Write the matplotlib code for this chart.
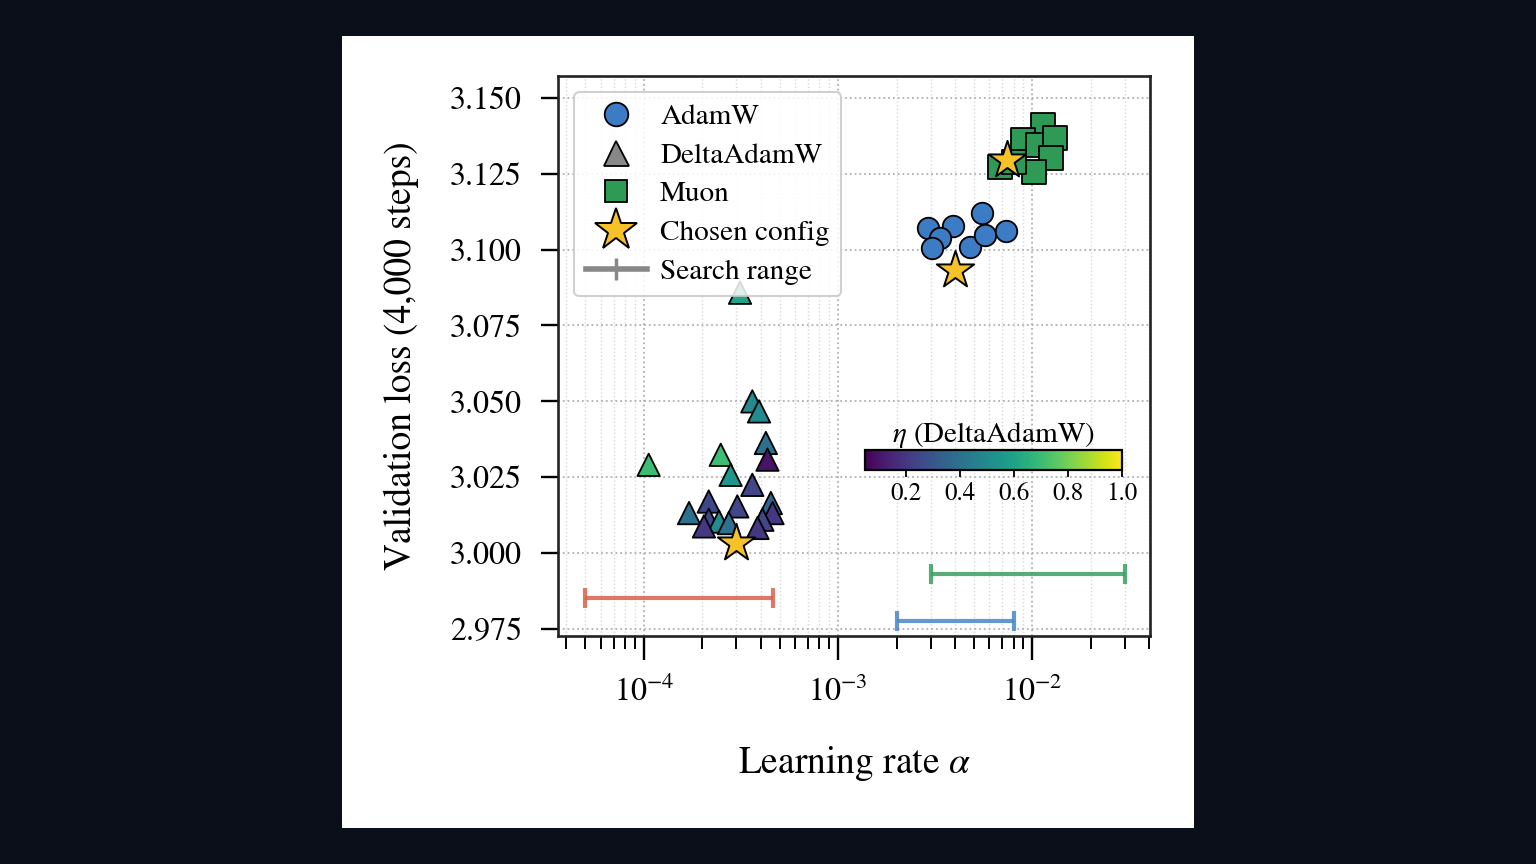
import numpy as np
import matplotlib
matplotlib.use("Agg")
import matplotlib.pyplot as plt
from matplotlib.lines import Line2D
from matplotlib.patches import Rectangle

plt.rcParams['font.family'] = 'serif'
plt.rcParams['font.serif'] = ['STIXGeneral', 'Liberation Serif', 'DejaVu Serif']
plt.rcParams['mathtext.fontset'] = 'stix'

# AdamW sweep
adamw_lr = [2.9e-3, 3.9e-3, 5.5e-3, 3.35e-3, 3.05e-3, 4.8e-3, 5.7e-3, 7.3e-3]
adamw_loss = [3.1072, 3.1078, 3.1121, 3.1039, 3.1006, 3.1009, 3.1049, 3.1062]
adamw_best = (4.0e-3, 3.0933)

# Muon sweep
muon_lr = [1.14e-2, 8.9e-3, 1.07e-2, 1.31e-2, 1.25e-2, 1.02e-2, 6.8e-3, 8.0e-3]
muon_loss = [3.1411, 3.1362, 3.1345, 3.1368, 3.1302, 3.1256, 3.1273, 3.1290]
muon_best = (7.4e-3, 3.1296)

# DeltaAdamW sweep (lr, loss, eta)
delta_lr = [1.06e-4, 3.62e-4, 3.92e-4, 4.25e-4, 4.33e-4, 2.49e-4, 2.80e-4, 3.62e-4,
            1.71e-4, 2.16e-4, 3.03e-4, 4.51e-4, 4.60e-4, 2.16e-4, 2.44e-4, 2.74e-4,
            4.08e-4, 2.04e-4, 3.85e-4, 3.13e-4]
delta_loss = [3.0291, 3.0500, 3.0467, 3.0363, 3.0308, 3.0324, 3.0258, 3.0225,
              3.0132, 3.0170, 3.0154, 3.0165, 3.0132, 3.0110, 3.0104, 3.0099,
              3.0110, 3.0088, 3.0083, 3.0858]
delta_eta = [0.7, 0.5, 0.5, 0.4, 0.1, 0.7, 0.55, 0.25,
             0.4, 0.25, 0.25, 0.35, 0.2, 0.25, 0.5, 0.4,
             0.25, 0.2, 0.2, 0.6]
delta_best = (3.0e-4, 3.0033)

# search ranges (lo, hi, y)
ranges = {
    'DeltaAdamW': (5e-5, 4.6e-4, 2.9853, '#d9604c'),
    'Muon': (3e-3, 3e-2, 2.9932, '#3a9e5f'),
    'AdamW': (2e-3, 8e-3, 2.9777, '#4a86c8'),
}

blue = '#3b7cc4'
green = '#2e9a55'
gold = '#f6c129'

fig = plt.figure(figsize=(15.36, 8.64), dpi=100, facecolor='#0b0f19')
fig.patches.append(Rectangle((342 / 1536, 1 - 828 / 864), 852 / 1536, 792 / 864,
                             transform=fig.transFigure, facecolor='white',
                             edgecolor='none', zorder=-10))

ax = fig.add_axes([558 / 1536, 1 - 636 / 864, 592 / 1536, 560 / 864])
ax.set_xscale('log')
ax.set_xlim(3.62e-5, 4.03e-2)
ax.set_ylim(2.9727, 3.1572)

ax.grid(True, which='major', linestyle=':', color='#b0b0b0', linewidth=1.3)
ax.grid(True, which='minor', axis='x', linestyle=':', color='#d8d8d8', linewidth=1.0)
ax.set_axisbelow(True)

for lo, hi, y, c in ranges.values():
    ax.errorbar([np.sqrt(lo * hi)], [y],
                xerr=[[np.sqrt(lo * hi) - lo], [hi - np.sqrt(lo * hi)]],
                fmt='none', ecolor=c, elinewidth=3, capsize=7, capthick=3, alpha=0.85, zorder=2)

ax.scatter(adamw_lr, adamw_loss, s=240, marker='o', c=blue, edgecolors='black',
           linewidths=1.3, zorder=3)
ax.scatter(muon_lr, muon_loss, s=310, marker='s', c=green, edgecolors='black',
           linewidths=1.3, zorder=3)
sc = ax.scatter(delta_lr, delta_loss, s=260, marker='^', c=delta_eta, cmap='viridis',
                vmin=0.05, vmax=1.0, edgecolors='black', linewidths=1.3, zorder=3)
for lr, loss in [adamw_best, muon_best, delta_best]:
    ax.scatter([lr], [loss], s=800, marker='*', c=gold, edgecolors='black',
               linewidths=1.4, zorder=4)

ax.set_yticks([2.975, 3.000, 3.025, 3.050, 3.075, 3.100, 3.125, 3.150])
ax.yaxis.set_major_formatter(matplotlib.ticker.FormatStrFormatter('%.3f'))
ax.tick_params(axis='both', which='major', labelsize=23, width=1.7, direction='out')
ax.tick_params(axis='x', which='major', length=17, pad=12)
ax.tick_params(axis='x', which='minor', length=9, width=1.4)
ax.tick_params(axis='y', which='major', length=12, pad=14)
for sp in ax.spines.values():
    sp.set_linewidth(1.9)
    sp.set_color('#222222')

ax.set_xlabel(r'Learning rate $\alpha$', fontsize=27, labelpad=26)
ax.set_ylabel('Validation loss (4,000 steps)', fontsize=27, labelpad=22)

handles = [
    Line2D([], [], marker='o', linestyle='none', markersize=17, markerfacecolor=blue,
           markeredgecolor='black', markeredgewidth=1.3, label='AdamW'),
    Line2D([], [], marker='^', linestyle='none', markersize=18, markerfacecolor='#888888',
           markeredgecolor='black', markeredgewidth=1.3, label='DeltaAdamW'),
    Line2D([], [], marker='s', linestyle='none', markersize=16, markerfacecolor=green,
           markeredgecolor='black', markeredgewidth=1.3, label='Muon'),
    Line2D([], [], marker='*', linestyle='none', markersize=32, markerfacecolor=gold,
           markeredgecolor='black', markeredgewidth=1.4, label='Chosen config'),
    Line2D([], [], color='#888888', linewidth=4, marker='|', markersize=16,
           markeredgewidth=2.5, label='Search range'),
]
leg = ax.legend(handles=handles, loc='upper left', fontsize=21, framealpha=0.85,
                edgecolor='#c8c8c8', handletextpad=0.45, labelspacing=0.42,
                borderpad=0.4, handlelength=2.1, borderaxespad=0.55)
leg.get_frame().set_linewidth(1.5)
leg.set_zorder(5)

cax = fig.add_axes([865 / 1536, 1 - 470 / 864, 257 / 1536, 20 / 864])
cb = fig.colorbar(sc, cax=cax, orientation='horizontal', ticks=[0.2, 0.4, 0.6, 0.8, 1.0])
cb.outline.set_linewidth(1.6)
cax.tick_params(labelsize=18, length=5, width=1.3)
cax.set_title(r'$\eta$ (DeltaAdamW)', fontsize=21, pad=5)

fig.savefig('out.png', dpi=100, facecolor=fig.get_facecolor())
